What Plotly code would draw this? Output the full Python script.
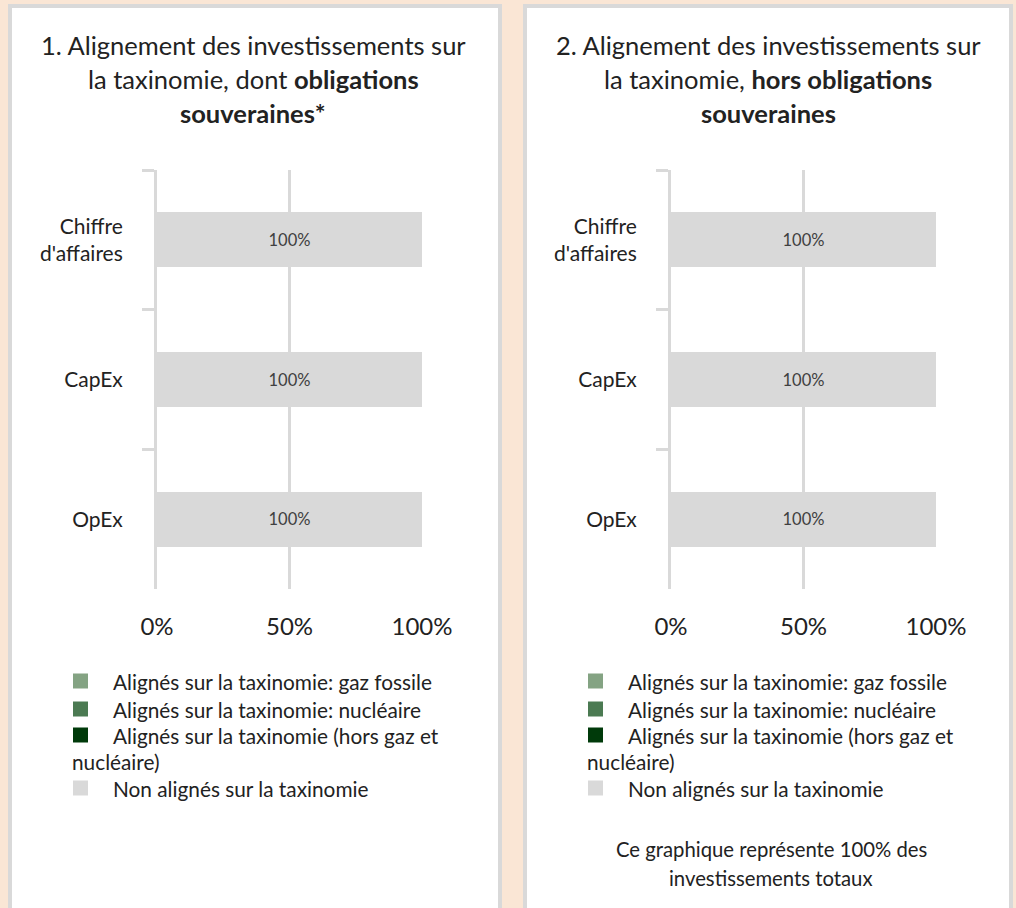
import plotly.graph_objects as go

# ---------------- data ----------------
categories = ["Chiffre<br>d'affaires", "CapEx", "OpEx"]
series_names = [
    "Alignés sur la taxinomie: gaz fossile",
    "Alignés sur la taxinomie: nucléaire",
    "Alignés sur la taxinomie (hors gaz et nucléaire)",
    "Non alignés sur la taxinomie",
]
series_colors = ["#84A383", "#4B7A52", "#003A0A", "#D9D9D9"]

# panel 1: incl. sovereign bonds
p1_gaz = [0, 0, 0]
p1_nuc = [0, 0, 0]
p1_hors = [0, 0, 0]
p1_non = [100, 100, 100]
# panel 2: excl. sovereign bonds
p2_gaz = [0, 0, 0]
p2_nuc = [0, 0, 0]
p2_hors = [0, 0, 0]
p2_non = [100, 100, 100]

x_tickvals = [0, 50, 100]
x_ticktext = ["0%", "50%", "100%"]

titles = [
    ["1. Alignement des investissements sur", "la taxinomie, dont <b>obligations</b>", "<b>souveraines*</b>"],
    ["2. Alignement des investissements sur", "la taxinomie, <b>hors obligations</b>", "<b>souveraines</b>"],
]
note_lines = ["Ce graphique représente 100% des", "investissements totaux"]

# ---------------- layout helpers ----------------
W, H = 1016, 908
FONT = "Lato"
TXT = "#222222"
GRID = "#D9D9D9"
PEACH = "#FAE6D5"


def px(x):
    return x / W


def py(y):
    return 1 - y / H


fig = go.Figure()

panels = [
    dict(vals=[p1_gaz, p1_nuc, p1_hors, p1_non], xa="x", ya="y"),
    dict(vals=[p2_gaz, p2_nuc, p2_hors, p2_non], xa="x2", ya="y2"),
]

for pi, p in enumerate(panels):
    for si, (name, col, vals) in enumerate(zip(series_names, series_colors, p["vals"])):
        is_last = si == len(series_names) - 1
        fig.add_trace(go.Bar(
            y=categories, x=vals, name=name, orientation="h",
            marker=dict(color=col, line=dict(width=0)),
            xaxis=p["xa"], yaxis=p["ya"], showlegend=False,
            text=[f"{v:.0f}%" for v in vals] if is_last else None,
            textposition="inside" if is_last else "none",
            insidetextanchor="middle",
            textfont=dict(family=FONT, size=16.5, color="#404040"),
            hoverinfo="x+name",
        ))

axis_common_x = dict(
    range=[0, 100], tickvals=x_tickvals, ticktext=x_ticktext,
    showgrid=True, gridcolor=GRID, gridwidth=3, zeroline=False,
    showline=False, ticks="", ticklabelstandoff=21, automargin=False,
    tickfont=dict(family=FONT, size=24, color=TXT), fixedrange=True,
)
axis_common_y = dict(
    categoryorder="array", categoryarray=categories, range=[2.5, -0.5],
    showline=True, linecolor=GRID, linewidth=3,
    ticks="outside", tickson="boundaries", ticklen=12, tickwidth=3, tickcolor=GRID,
    showgrid=False, zeroline=False, ticklabelstandoff=27, automargin=False,
    tickfont=dict(family=FONT, size=21, color=TXT), fixedrange=True,
)

ydom = [py(589), py(170)]
fig.update_layout(
    xaxis=dict(domain=[px(157), px(422)], anchor="y", **axis_common_x),
    yaxis=dict(domain=ydom, anchor="x", **axis_common_y),
    xaxis2=dict(domain=[px(671), px(936)], anchor="y2", **axis_common_x),
    yaxis2=dict(domain=ydom, anchor="x2", **axis_common_y),
    barmode="stack", bargap=0.607,
    width=W, height=H, margin=dict(l=0, r=0, t=0, b=0, pad=0, autoexpand=False),
    paper_bgcolor=PEACH, plot_bgcolor="rgba(0,0,0,0)",
    font=dict(family=FONT, color=TXT), showlegend=False,
)

shapes = []
annotations = []

# white panels with grey border (extend beyond the bottom edge)
for x0, x1 in [(10, 500), (525, 1011)]:
    shapes.append(dict(type="rect", xref="paper", yref="paper", layer="below",
                       x0=px(x0), x1=px(x1), y0=py(930), y1=py(6),
                       fillcolor="white", line=dict(color=GRID, width=4)))

# titles
for pi, lines in enumerate(titles):
    cx = 253 + pi * 515
    for li, t in enumerate(lines):
        annotations.append(dict(text=t, xref="paper", yref="paper", x=px(cx), y=py(45 + li * 34),
                                xanchor="center", yanchor="middle", showarrow=False,
                                font=dict(family=FONT, size=25.5, color=TXT)))

# legends (manual, to reproduce the hanging wrap)
row_y = [681, 709, 735, 788]
for pi in range(2):
    off = pi * 515
    for si, (name, col) in enumerate(zip(series_names, series_colors)):
        yc = row_y[si]
        shapes.append(dict(type="rect", xref="paper", yref="paper",
                           x0=px(73 + off), x1=px(88 + off), y0=py(yc + 7.5), y1=py(yc - 7.5),
                           fillcolor=col, line=dict(width=0)))
        if "(hors gaz et " in name:
            first, rest = name.split("(hors gaz et ")
            lines = [(first + "(hors gaz et", 111 + off, yc), (rest, 70 + off, yc + 26)]
        else:
            lines = [(name, 111 + off, yc)]
        for t, xx, yy in lines:
            annotations.append(dict(text=t, xref="paper", yref="paper", x=px(xx), y=py(yy),
                                    xanchor="left", yanchor="middle", showarrow=False,
                                    font=dict(family=FONT, size=20.8, color=TXT)))

# note (panel 2)
for li, t in enumerate(note_lines):
    annotations.append(dict(text=t, xref="paper", yref="paper", x=px(771), y=py(849 + li * 29),
                            xanchor="center", yanchor="middle", showarrow=False,
                            font=dict(family=FONT, size=20.3, color=TXT)))

fig.update_layout(shapes=shapes, annotations=annotations)
fig.write_html(
    "out.html",
    config={"displayModeBar": False},
    post_script="document.body.style.margin='0';document.body.style.background='" + PEACH + "';",
)
